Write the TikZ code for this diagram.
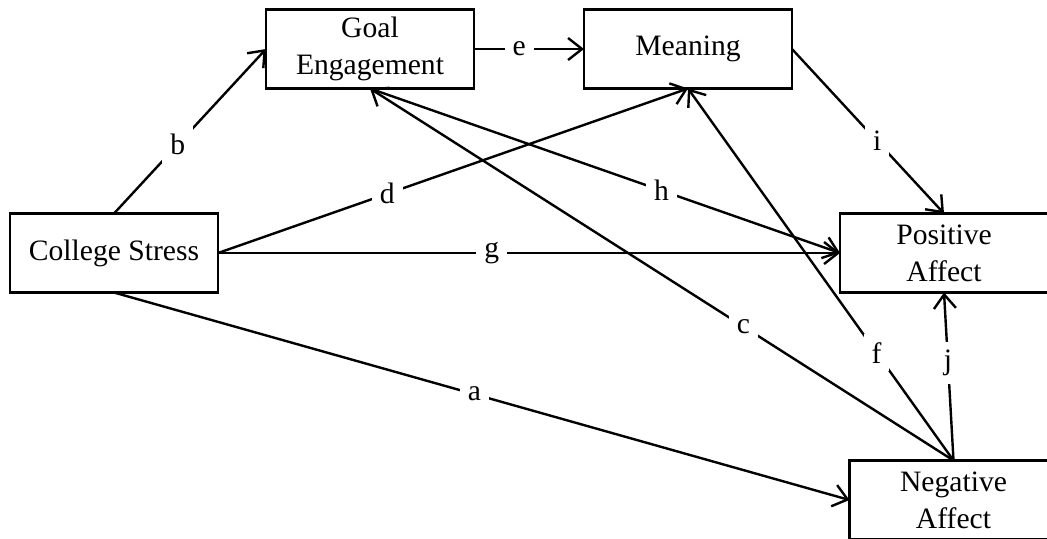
\documentclass[tikz,border=0pt]{standalone}
\usepackage{fontspec}
\setmainfont{Liberation Serif}
\usetikzlibrary{positioning,arrows.meta}

\tikzset{
  var/.style={draw, line width=1.2pt, minimum width=104pt, minimum height=39.5pt,
    inner sep=0pt, outer sep=0pt, align=center, font=\fontsize{14.8}{18.5}\selectfont},
  link/.style={line width=1.2pt, -{Straight Barb[length=7pt,width=11pt]}},
  coef/.style={fill=white, inner sep=4pt, font=\fontsize{14.8}{18.5}\selectfont},
}

\begin{document}
\begin{tikzpicture}[x=0.5pt, y=-0.5pt]
            \useasboundingbox (0,0) rectangle (1047,538);

            % Define nodes
            \node[var] (CS) at (114,253) {College Stress};
            \node[var, above right=62.5pt and 24pt of CS] (GE) {Goal\\Engagement};
            \node[var, right=55pt of GE] (M) {Meaning};
            \node[var, below right=62.5pt and 24pt of M] (PA) {Positive\\Affect};
            \node[var, below=84pt of PA, xshift=4.75pt] (NA) {Negative\\Affect};

            % Connect the nodes
            \draw[link] (CS.north) -- node[coef, pos=0.42] {b} (GE.west);
            \draw[link] (GE) -- node[coef, pos=0.41] {e} (M);
            \draw[link] (CS.east) -- node[coef, pos=0.36] {d} (M.south);
            \draw[link] (CS.east) -- node[coef, pos=0.44] {g} (PA.west);
            \draw[link] (CS.south) -- node[coef, pos=0.49] {a} (NA.west);
            \draw[link] (GE.south) -- node[coef, pos=0.62] {h} (PA.west);
            \draw[link] (NA.north) -- node[coef, pos=0.36] {c} (GE.south);
            \draw[link] (NA.north) -- node[coef, pos=0.29] {f} (M.south);
            \draw[link] (M.east) -- node[coef, pos=0.56] {i} (PA.north);
            \draw[link] (NA.north) -- node[coef, pos=0.58] {j} (PA.south);
          \end{tikzpicture}
\end{document}
